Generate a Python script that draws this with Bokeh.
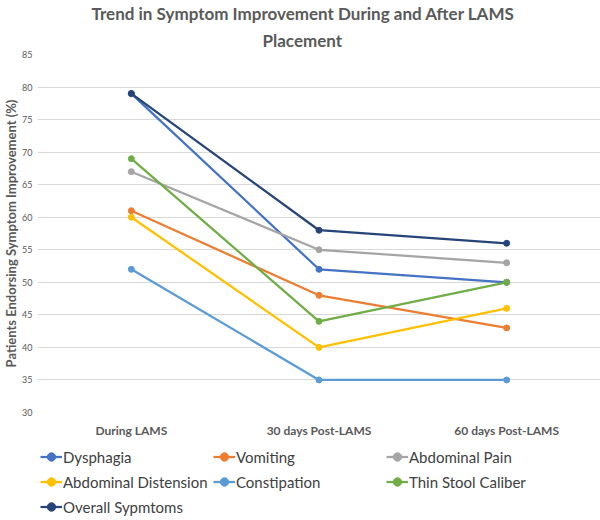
from bokeh.plotting import figure
from bokeh.layouts import column
from bokeh.models import Title, Legend, LegendItem, FixedTicker, Range1d
from bokeh.embed import file_html
from bokeh.resources import INLINE

categories = ["During LAMS", "30 days Post-LAMS", "60 days Post-LAMS"]
dysphagia = [79, 52, 50]
vomiting = [61, 48, 43]
abdominal_pain = [67, 55, 53]
abdominal_distension = [60, 40, 46]
constipation = [52, 35, 35]
thin_stool_caliber = [69, 44, 50]
overall_symptoms = [79, 58, 56]
y_ticks = [30, 35, 40, 45, 50, 55, 60, 65, 70, 75, 80, 85]

series_names = ["Dysphagia", "Vomiting", "Abdominal Pain", "Abdominal Distension",
                "Constipation", "Thin Stool Caliber", "Overall Sypmtoms"]
series_values = [dysphagia, vomiting, abdominal_pain, abdominal_distension,
                 constipation, thin_stool_caliber, overall_symptoms]
colors = ["#4472C4", "#ED7D31", "#A5A5A5", "#FFC000", "#5B9BD5", "#70AD47", "#264478"]

FONT = "Lato"
GRAY = "#595959"

p = figure(x_range=categories, y_range=Range1d(30, 85),
           frame_width=563, frame_height=358,
           output_backend="svg", toolbar_location=None,
           min_border_left=28, min_border_right=0, min_border_top=0, min_border_bottom=28)
p.title = None

t2 = Title(text="Placement", align="left", text_font=FONT, text_font_size="17px",
           text_color=GRAY, text_font_style="bold", standoff=8, offset=225)
t1 = Title(text="Trend in Symptom Improvement During and After LAMS", align="left",
           text_font=FONT, text_font_size="17px", text_color=GRAY,
           text_font_style="bold", standoff=0, offset=54)
p.add_layout(t2, "above")
p.add_layout(t1, "above")

p.outline_line_color = None
p.background_fill_color = "white"
p.border_fill_color = "white"

p.xaxis.axis_line_color = None
p.xaxis.major_tick_line_color = None
p.xaxis.minor_tick_line_color = None
p.xaxis.major_tick_out = 0
p.xaxis.major_tick_in = 0
p.xaxis.major_label_text_font = FONT
p.xaxis.major_label_text_font_size = "12px"
p.xaxis.major_label_text_font_style = "bold"
p.xaxis.major_label_text_color = GRAY
p.xaxis.major_label_standoff = 10
p.xgrid.grid_line_color = None

p.yaxis.ticker = FixedTicker(ticks=y_ticks)
p.yaxis.axis_line_color = None
p.yaxis.major_tick_line_color = None
p.yaxis.minor_tick_line_color = None
p.yaxis.major_tick_out = 0
p.yaxis.major_tick_in = 0
p.yaxis.major_label_text_font = FONT
p.yaxis.major_label_text_font_size = "9px"
p.yaxis.major_label_text_color = GRAY
p.yaxis.major_label_standoff = 5
p.yaxis.axis_label = "Patients Endorsing Symptom Improvement (%)"
p.yaxis.axis_label_text_font = FONT
p.yaxis.axis_label_text_font_size = "13px"
p.yaxis.axis_label_text_font_style = "bold"
p.yaxis.axis_label_text_color = GRAY
p.yaxis.axis_label_standoff = 0
p.ygrid.grid_line_color = "#D9D9D9"
p.ygrid.grid_line_width = 1

for vals, col in zip(series_values, colors):
    p.line(categories, vals, line_color=col, line_width=2.25)
    p.scatter(categories, vals, size=6, fill_color=col, line_color=col)

# Legend strip below the chart: its renderers hold the series values, which
# lie outside this strip's 0..1 ranges, so only the legend swatches show.
q = figure(width=591, height=80, x_range=Range1d(0, 1), y_range=Range1d(0, 1),
           output_backend="svg", toolbar_location=None,
           min_border_left=0, min_border_right=0, min_border_top=0, min_border_bottom=0)
q.axis.visible = False
q.grid.grid_line_color = None
q.outline_line_color = None
q.title = None

items = []
for name, vals, col in zip(series_names, series_values, colors):
    r1 = q.line(vals, vals, line_color=col, line_width=2.25)
    r2 = q.scatter(vals, vals, size=5, fill_color=col, line_color=col)
    items.append(LegendItem(label=name, renderers=[r1, r2], index=0))

row_bottoms = [53, 28, 3]
for row in range(3):
    lg = Legend(items=items[row * 3:row * 3 + 3], orientation="horizontal",
                location=(3, row_bottoms[row]), border_line_color=None,
                background_fill_alpha=0, label_text_font=FONT,
                label_text_font_size="15px", label_text_color="#404040",
                glyph_width=22, glyph_height=21, label_height=21,
                label_width=147, label_standoff=1, spacing=3,
                padding=2, margin=0)
    q.add_layout(lg, "center")

layout = column(p, q, spacing=0)
open("out.html", "w").write(file_html(layout, INLINE))
